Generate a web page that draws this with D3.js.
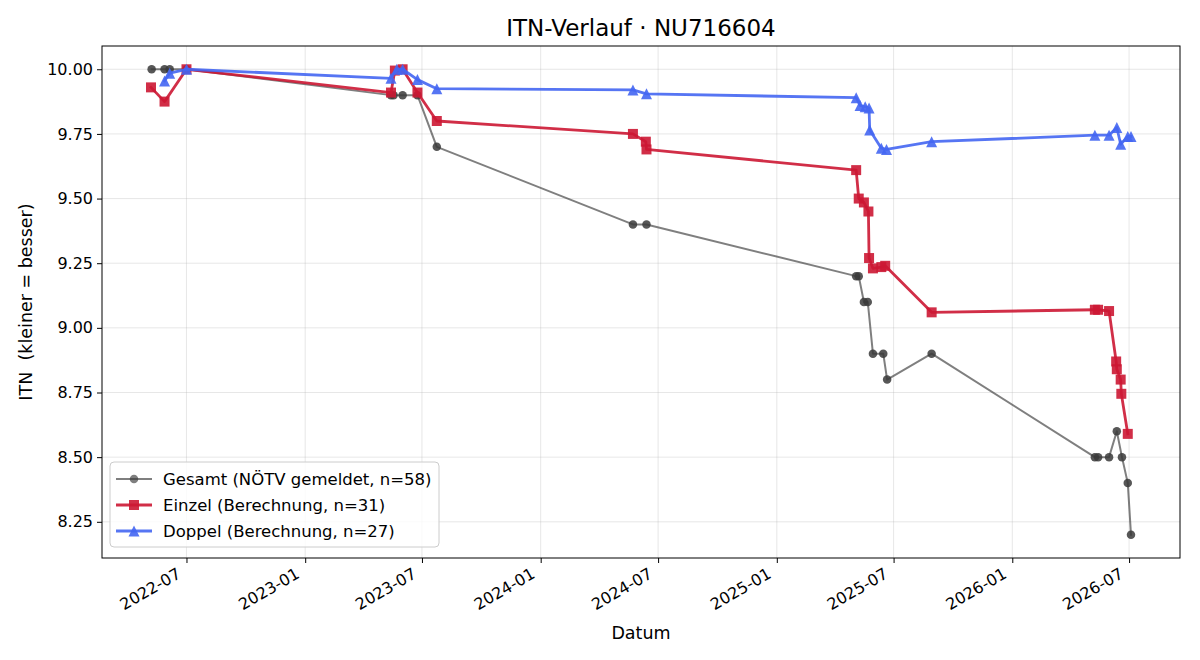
<!DOCTYPE html>
<html>
<head>
<meta charset="utf-8">
<script src="https://cdn.jsdelivr.net/npm/d3@7"></script>
<style>
body { margin: 0; background: #fff; }
text { font-family: "DejaVu Sans", sans-serif; }
</style>
</head>
<body>
<div id="chart"></div>
<script>
// Gesamt (NÖTV gemeldet)
var gesamtDates = ["2022-05-08","2022-05-28","2022-06-05","2022-07-01","2023-05-14","2023-05-18","2023-06-01","2023-06-24","2023-07-24","2024-05-23","2024-06-13","2025-05-04","2025-05-08","2025-05-16","2025-05-22","2025-05-30","2025-06-15","2025-06-21","2025-08-29","2026-05-09","2026-05-14","2026-05-31","2026-06-12","2026-06-20","2026-06-29","2026-07-04"];
var gesamtValues = [10.0,10.0,10.0,10.0,9.9,9.9,9.9,9.9,9.7,9.4,9.4,9.2,9.2,9.1,9.1,8.9,8.9,8.8,8.9,8.5,8.5,8.5,8.6,8.5,8.4,8.2];

// Einzel (Berechnung)
var einzelDates = ["2022-05-07","2022-05-28","2022-07-01","2023-05-14","2023-05-20","2023-06-01","2023-06-24","2023-07-24","2024-05-23","2024-06-12","2024-06-13","2025-05-04","2025-05-08","2025-05-16","2025-05-23","2025-05-24","2025-05-30","2025-06-12","2025-06-18","2025-08-29","2026-05-09","2026-05-14","2026-05-31","2026-06-11","2026-06-12","2026-06-18","2026-06-19","2026-06-29"];
var einzelValues = [9.93,9.875,10.0,9.91,9.995,10.0,9.91,9.80,9.75,9.72,9.69,9.61,9.50,9.485,9.45,9.27,9.23,9.235,9.24,9.06,9.07,9.07,9.065,8.87,8.84,8.80,8.745,8.59];

// Doppel (Berechnung)
var doppelDates = ["2022-05-28","2022-06-05","2022-07-01","2023-05-14","2023-05-23","2023-06-01","2023-06-24","2023-07-24","2024-05-23","2024-06-13","2025-05-04","2025-05-10","2025-05-18","2025-05-24","2025-05-25","2025-06-12","2025-06-20","2025-08-29","2026-05-09","2026-05-31","2026-06-12","2026-06-18","2026-06-29","2026-07-04"];
var doppelValues = [9.955,9.985,10.0,9.965,10.0,10.0,9.96,9.925,9.92,9.905,9.89,9.86,9.855,9.85,9.765,9.695,9.69,9.72,9.745,9.745,9.775,9.71,9.74,9.74];

var yTicks = [8.25,8.5,8.75,9.0,9.25,9.5,9.75,10.0];
var xTickLabels = ["2022-07","2023-01","2023-07","2024-01","2024-07","2025-01","2025-07","2026-01","2026-07"];

var W = 1200, H = 660;
var mLeft = 102, mRight = 1180, mTop = 46, mBottom = 558;

var parse = d3.timeParse("%Y-%m-%d");
function zip(dates, vals) {
  return dates.map(function (d, i) { return { date: parse(d), value: vals[i] }; });
}
var series = [
  { name: "Gesamt (NÖTV gemeldet, n=58)", data: zip(gesamtDates, gesamtValues), color: "#3a3a3a", alpha: 0.65, malpha: 0.85, lw: 2, marker: "circle", ms: 8.5 },
  { name: "Einzel (Berechnung, n=31)", data: zip(einzelDates, einzelValues), color: "#cc1733", alpha: 0.9, malpha: 0.9, lw: 2.8, marker: "square", ms: 10 },
  { name: "Doppel (Berechnung, n=27)", data: zip(doppelDates, doppelValues), color: "#4466f2", alpha: 0.9, malpha: 0.9, lw: 2.8, marker: "triangle", ms: 11 }
];

var all = series[0].data.concat(series[1].data, series[2].data);
var xExt = d3.extent(all, function (d) { return d.date; });
var yExt = d3.extent(all, function (d) { return d.value; });
var xPad = (xExt[1] - xExt[0]) * 0.05;
var yPad = (yExt[1] - yExt[0]) * 0.05;

var x = d3.scaleTime()
  .domain([new Date(+xExt[0] - xPad), new Date(+xExt[1] + xPad)])
  .range([mLeft, mRight]);
var y = d3.scaleLinear()
  .domain([yExt[0] - yPad, yExt[1] + yPad])
  .range([mBottom, mTop]);

var xTicks = xTickLabels.map(function (s) { return parse(s + "-01"); });

var svg = d3.select("#chart").append("svg")
  .attr("width", W).attr("height", H);

// grid
var grid = svg.append("g").attr("class", "grid");
grid.selectAll("line.gx").data(xTicks).enter().append("line")
  .attr("x1", function (d) { return x(d); }).attr("x2", function (d) { return x(d); })
  .attr("y1", mTop).attr("y2", mBottom)
  .attr("stroke", "#b0b0b0").attr("stroke-opacity", 0.3).attr("stroke-width", 1);
grid.selectAll("line.gy").data(yTicks).enter().append("line")
  .attr("y1", function (d) { return y(d); }).attr("y2", function (d) { return y(d); })
  .attr("x1", mLeft).attr("x2", mRight)
  .attr("stroke", "#b0b0b0").attr("stroke-opacity", 0.3).attr("stroke-width", 1);

// axes
var xAxis = d3.axisBottom(x).tickValues(xTicks).tickFormat(d3.timeFormat("%Y-%m")).tickSizeOuter(0).tickSize(5);
var gx = svg.append("g").attr("transform", "translate(0," + mBottom + ")").call(xAxis);
gx.select(".domain").remove();
gx.selectAll(".tick line").attr("stroke", "#000").attr("stroke-width", 1);
gx.selectAll(".tick text")
  .attr("font-size", 16).attr("fill", "#000")
  .attr("text-anchor", "end")
  .attr("dy", null).attr("y", 0)
  .attr("transform", "translate(-5,19) rotate(-30)");

var yAxis = d3.axisLeft(y).tickValues(yTicks).tickFormat(d3.format(".2f")).tickSizeOuter(0).tickSize(5);
var gy = svg.append("g").attr("transform", "translate(" + mLeft + ",0)").call(yAxis);
gy.select(".domain").remove();
gy.selectAll(".tick line").attr("stroke", "#000").attr("stroke-width", 1);
gy.selectAll(".tick text").attr("font-size", 16).attr("fill", "#000").attr("x", -9);

// lines and markers
var line = d3.line().x(function (d) { return x(d.date); }).y(function (d) { return y(d.value); });

function markerPath(type, s) {
  var h = s / 2;
  if (type === "square") return "M" + (-h) + "," + (-h) + "H" + h + "V" + h + "H" + (-h) + "Z";
  if (type === "triangle") return "M0," + (-h) + "L" + h + "," + h + "L" + (-h) + "," + h + "Z";
  return d3.symbol().type(d3.symbolCircle).size(Math.PI * h * h)();
}

var plot = svg.append("g");
series.forEach(function (s) {
  var g = plot.append("g");
  g.append("path").datum(s.data)
    .attr("d", line)
    .attr("fill", "none")
    .attr("stroke", s.color)
    .attr("stroke-opacity", s.alpha)
    .attr("stroke-width", s.lw)
    .attr("stroke-linejoin", "round")
    .attr("stroke-linecap", "square");
  g.selectAll("path.m").data(s.data).enter().append("path")
    .attr("class", "m")
    .attr("d", markerPath(s.marker, s.ms))
    .attr("transform", function (d) { return "translate(" + x(d.date) + "," + y(d.value) + ")"; })
    .attr("fill", s.color)
    .attr("fill-opacity", s.malpha);
});

// frame
svg.append("rect")
  .attr("x", mLeft).attr("y", mTop)
  .attr("width", mRight - mLeft).attr("height", mBottom - mTop)
  .attr("fill", "none").attr("stroke", "#000").attr("stroke-width", 1);

// legend
var lg = svg.append("g").attr("transform", "translate(110,462)");
lg.append("rect")
  .attr("width", 329).attr("height", 85)
  .attr("rx", 4).attr("ry", 4)
  .attr("fill", "#fff").attr("fill-opacity", 0.8)
  .attr("stroke", "#cccccc").attr("stroke-width", 1);
series.forEach(function (s, i) {
  var yy = 17 + i * 26;
  lg.append("line")
    .attr("x1", 6).attr("x2", 42).attr("y1", yy).attr("y2", yy)
    .attr("stroke", s.color).attr("stroke-opacity", s.alpha).attr("stroke-width", s.lw);
  lg.append("path")
    .attr("d", markerPath(s.marker, s.ms))
    .attr("transform", "translate(24," + yy + ")")
    .attr("fill", s.color).attr("fill-opacity", s.alpha);
  lg.append("text")
    .attr("x", 53).attr("y", yy).attr("dy", "0.35em")
    .attr("font-size", 16.5).attr("fill", "#000")
    .text(s.name);
});

// titles
svg.append("text")
  .attr("x", (mLeft + mRight) / 2).attr("y", 36)
  .attr("text-anchor", "middle").attr("font-size", 23)
  .text("ITN-Verlauf · NU716604");
svg.append("text")
  .attr("x", (mLeft + mRight) / 2).attr("y", 639)
  .attr("text-anchor", "middle").attr("font-size", 17.5)
  .text("Datum");
svg.append("text")
  .attr("transform", "translate(32," + ((mTop + mBottom) / 2) + ") rotate(-90)")
  .attr("text-anchor", "middle").attr("font-size", 17.5)
  .style("white-space", "pre")
  .text("ITN  (kleiner = besser)");
</script>
</body>
</html>
